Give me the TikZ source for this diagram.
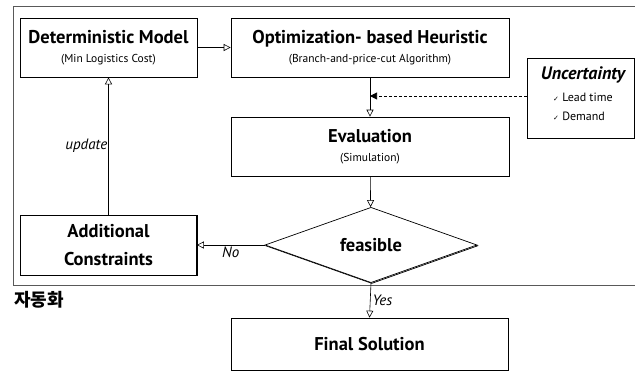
\documentclass[tikz,border=0pt]{standalone}
\usepackage{fontspec}
\setmainfont{PT Sans}
\newfontfamily\kofont{Noto Sans CJK KR}
\newfontfamily\symfont{DejaVu Sans}
\usetikzlibrary{arrows.meta,positioning,shapes.geometric,shadows}

\newcommand{\titlefont}{\fontsize{18.5}{28}\selectfont\bfseries}
\newcommand{\boxsub}[1]{{\fontsize{11.5}{13}\selectfont #1}}

\begin{document}
\begin{tikzpicture}[x=1pt,y=-1pt,
    box/.style={rectangle, draw, line width=0.7pt, fill=white, align=center, inner sep=2pt,
        copy shadow={shadow xshift=0.8pt, shadow yshift=-0.8pt}},
    decision/.style={diamond, draw, line width=0.7pt, fill=white, inner sep=0pt,
        copy shadow={shadow xshift=0.8pt, shadow yshift=-0.8pt}},
    flow/.style={draw, line width=0.6pt, -{Triangle[open, length=7pt, width=7pt]}},
    cond/.style={font=\fontsize{15}{17}\selectfont\itshape, inner sep=2pt}]
    \useasboundingbox (0,0) rectangle (635,373);
    \def\boxh{59}
    \def\colA{108.5}
    \def\colB{370}

    % frame of the automated loop
    \draw[line width=0.6pt, gray!70!black] (635,6) -- (13,6) -- (13,285) -- (635,285);

    \node(det) [box, minimum width=177, minimum height=\boxh] at (\colA,47.5)
        {{\titlefont Deterministic Model}\\[7pt]\boxsub{(Min Logistics Cost)}};
    \node(opt) [box, minimum width=278, minimum height=\boxh] at (\colB,47.5)
        {{\titlefont Optimization- based Heuristic}\\[7pt]\boxsub{(Branch-and-price-cut Algorithm)}};
    \node(eval) [box, minimum width=278, minimum height=\boxh] at (\colB,146.5)
        {{\titlefont Evaluation}\\[7pt]\boxsub{(Simulation)}};
    \node(feas) [decision, minimum width=212, minimum height=60, font=\titlefont] at (371,245)
        {feasible};
    \node(add) [box, minimum width=176, minimum height=60, font=\titlefont] at (\colA,245)
        {Additional\\Constraints};
    \node(final) [box, minimum width=277, minimum height=52, font=\titlefont] at (369.5,344)
        {Final Solution};

    % uncertainty
    \node(unc) [box, minimum width=107, minimum height=80] at (580.5,98) {};
    \node(unctitle) at (583,75) {\fontsize{18}{20}\selectfont\bfseries\itshape Uncertainty};
    \node(unclist) [anchor=west, align=left, inner sep=0pt, font=\fontsize{12}{19}\selectfont]
        at (553,106.5) {{\symfont\scriptsize ✓}\ Lead time\\{\symfont\scriptsize ✓}\ Demand};

    \node(auto) [anchor=west, inner sep=0pt] at (14,300) {\kofont\bfseries\fontsize{18}{20}\selectfont 자동화};

    \draw[flow] (det) -- (opt);
    \draw[flow] (opt) -- (eval);
    \draw[flow] (eval) -- (feas);
    \draw[flow] (feas.west) -- node[cond, below] {No} (add.east);
    \draw[flow] (feas.south) -- node[cond, right] {Yes} (final.north);
    \draw[flow] (add.north) -- node[cond, left, inner sep=1pt] {update} (det.south);
    \coordinate (uncin) at ([yshift=2pt]unc.west);
    \draw[line width=0.6pt, dash pattern=on 3pt off 2pt, -{Triangle[length=7pt, width=7pt]}]
        (uncin) -- (opt.south |- uncin);
\end{tikzpicture}
\end{document}
